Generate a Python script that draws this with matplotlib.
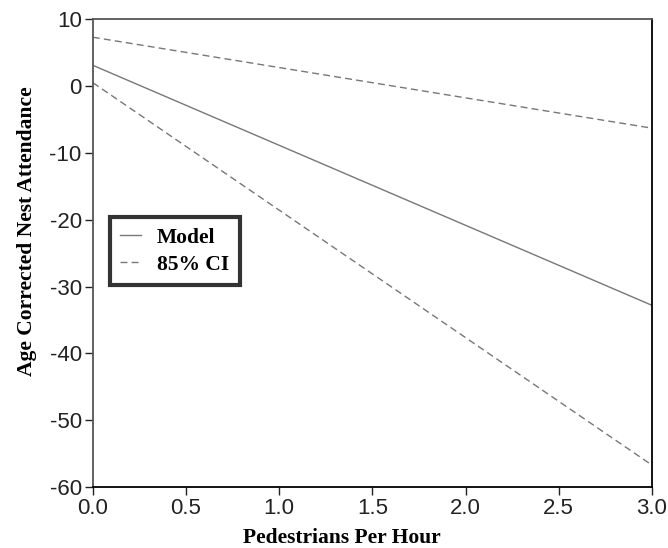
import numpy as np
import matplotlib.pyplot as plt

plt.rcParams["axes.unicode_minus"] = False

# pedestrian rate and fitted nest attendance (model with 85% CI bounds)
pedestrians = [0.0, 3.0]
model = [3.1, -32.8]
ci_upper = [7.3, -6.3]
ci_lower = [0.5, -56.7]

fig = plt.figure(figsize=(6.68, 5.48), dpi=100)
ax = fig.add_axes([0.139, 0.111, 0.837, 0.854])

ax.plot(pedestrians, model, color="#777777", lw=1.0, label="Model")
ax.plot(pedestrians, ci_upper, color="#777777", lw=1.0, ls=(0, (5, 3)), label="85% CI")
ax.plot(pedestrians, ci_lower, color="#777777", lw=1.0, ls=(0, (5, 3)))

ax.set_xlim(0, 3)
ax.set_ylim(-60, 10)
ax.set_xticks(np.arange(0, 3.01, 0.5))
ax.set_xticklabels([f"{v:.1f}" for v in np.arange(0, 3.01, 0.5)])
ax.set_yticks(np.arange(-60, 11, 10))

for lab in ax.get_xticklabels() + ax.get_yticklabels():
    lab.set_fontfamily("Liberation Sans")
    lab.set_fontsize(16)
ax.tick_params(direction="out", length=6, width=1.0, colors="#222222", pad=2)

ax.spines["left"].set_color("#555555")
ax.spines["top"].set_color("#555555")
ax.spines["right"].set_color("black")
ax.spines["bottom"].set_color("black")
for s in ax.spines.values():
    s.set_linewidth(1.3)

label_font = {"family": "Liberation Serif", "weight": "bold", "size": 15.5}
ax.set_xlabel("Pedestrians Per Hour", fontdict=label_font, labelpad=6)
ax.set_ylabel("Age Corrected Nest Attendance", fontdict=label_font, labelpad=9)
# labels sit a bit off-centre along their axes
ax.xaxis.label.set_x(0.445)
ax.yaxis.label.set_y(0.547)

leg = ax.legend(loc="upper left", bbox_to_anchor=(0.03, 0.577), frameon=True,
                fancybox=False, handlelength=0.95, handletextpad=0.75,
                borderpad=0.5, labelspacing=0.3, borderaxespad=0,
                prop={"family": "Liberation Serif", "weight": "bold", "size": 15.5})
leg.get_frame().set_edgecolor("black")
leg.get_frame().set_linewidth(3)

plt.savefig("out.png")
